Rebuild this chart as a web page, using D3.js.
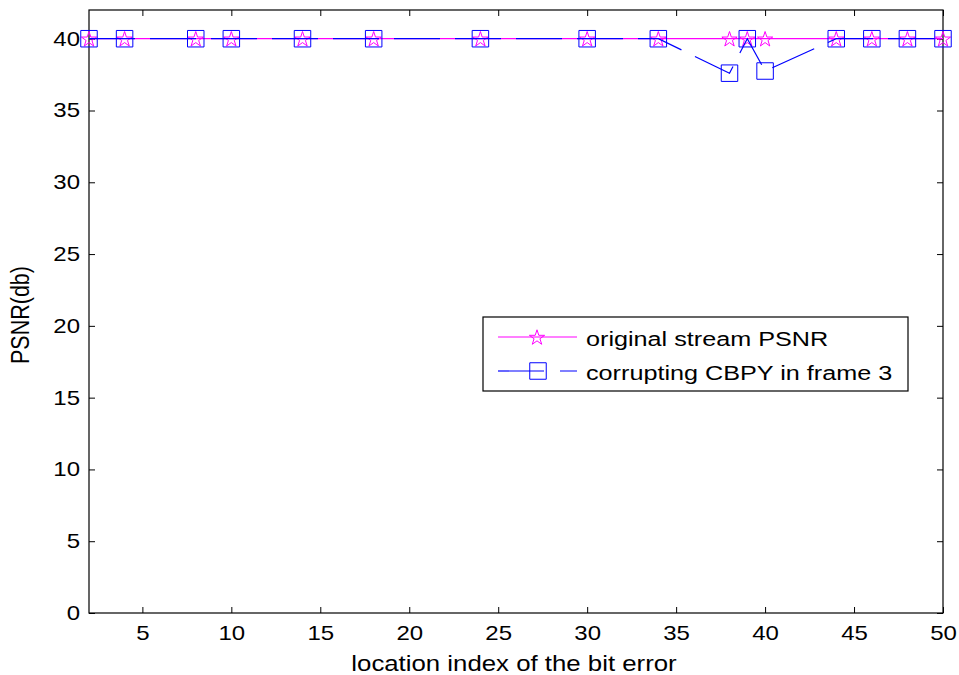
<!DOCTYPE html>
<html>
<head>
<meta charset="utf-8">
<script src="https://cdn.jsdelivr.net/npm/d3@7"></script>
<style>
  body { margin: 0; background: #fff; }
  text { font-family: "Liberation Sans", Arial, sans-serif; }
</style>
</head>
<body>
<svg id="chart" width="959" height="675"></svg>
<script>
// bit error locations tested
var locations = [2, 4, 8, 10, 14, 18, 24, 30, 34, 38, 39, 40, 44, 46, 48, 50];
var originalPsnr = [40, 40, 40, 40, 40, 40, 40, 40, 40, 40, 40, 40, 40, 40, 40, 40];
var corruptPsnr = [40, 40, 40, 40, 40, 40, 40, 40, 40, 37.6, 40, 37.75, 40, 40, 40, 40];
var xTicks = [5, 10, 15, 20, 25, 30, 35, 40, 45, 50];
var yTicks = [0, 5, 10, 15, 20, 25, 30, 35, 40];
var seriesNames = ["original stream PSNR", "corrupting CBPY in frame 3"];

var margin = {top: 10, right: 16, bottom: 62, left: 89};
var width = 959 - margin.left - margin.right;
var height = 675 - margin.top - margin.bottom;
var stretch = 1.2; // the original picture's text is a bit wide

var svg = d3.select('#chart')
  .append('g')
    .attr('transform', 'translate(' + margin.left + ',' + margin.top + ')');

var x = d3.scaleLinear().domain([2, 50]).range([0, width]);
var y = d3.scaleLinear().domain([0, 42]).range([height, 0]);

// axes, MATLAB style: ticks inside, box all round
function styleAxis(g) {
  g.select('.domain').remove();
  g.selectAll('.tick line').attr('stroke', '#000');
  g.selectAll('.tick text')
    .attr('fill', '#000')
    .style('font-size', '20px')
    .attr('transform', 'scale(' + stretch + ',1)');
}

svg.append('g')
  .attr('transform', 'translate(0,' + height + ')')
  .call(d3.axisBottom(x).tickValues(xTicks).tickSizeInner(-6).tickSizeOuter(0).tickPadding(13))
  .call(styleAxis);
svg.append('g')
  .call(d3.axisTop(x).tickValues(xTicks).tickSizeInner(-6).tickSizeOuter(0).tickFormat(''))
  .call(styleAxis);
svg.append('g')
  .call(d3.axisLeft(y).tickValues(yTicks).tickSizeInner(-6).tickSizeOuter(0).tickPadding(7.5))
  .call(styleAxis);
svg.append('g')
  .attr('transform', 'translate(' + width + ',0)')
  .call(d3.axisRight(y).tickValues(yTicks).tickSizeInner(-6).tickSizeOuter(0).tickFormat(''))
  .call(styleAxis);

svg.append('rect')
  .attr('width', width).attr('height', height)
  .attr('fill', 'none').attr('stroke', '#000').attr('stroke-width', 1.2);

svg.append('text')
  .attr('transform', 'translate(' + (width / 2 - 2) + ',' + (height + 58) + ') scale(' + stretch + ',1)')
  .attr('text-anchor', 'middle')
  .style('font-size', '21.5px')
  .text('location index of the bit error');

svg.append('text')
  .attr('transform', 'translate(' + (-60) + ',' + (height / 2 + 3.5) + ') scale(' + stretch + ',1) rotate(-90)')
  .attr('text-anchor', 'middle')
  .style('font-size', '21.5px')
  .text('PSNR(db)');

var star = d3.symbol().type(d3.symbolStar).size(72);
var square = d3.symbol().type(d3.symbolSquare).size(272);

var pts1 = locations.map(function(d, i) { return {x: d, y: originalPsnr[i]} });
var pts2 = locations.map(function(d, i) { return {x: d, y: corruptPsnr[i]} });

var line = d3.line()
  .x(function(d) { return x(d.x) })
  .y(function(d) { return y(d.y) });

svg.append('path')
  .attr('d', line(pts1))
  .attr('fill', 'none').attr('stroke', '#ff00ff').attr('stroke-width', 1.2);
svg.selectAll('.star')
  .data(pts1).enter()
  .append('path')
    .attr('transform', function(d) { return 'translate(' + x(d.x) + ',' + (y(d.y) + 0.8) + ')' })
    .attr('d', star)
    .attr('fill', 'none').attr('stroke', '#ff00ff').attr('stroke-width', 1);

svg.append('path')
  .attr('d', line(pts2))
  .attr('fill', 'none').attr('stroke', '#0000ff').attr('stroke-width', 1.2)
  .attr('stroke-dasharray', '46,15');
svg.selectAll('.sq')
  .data(pts2).enter()
  .append('path')
    .attr('transform', function(d) { return 'translate(' + x(d.x) + ',' + y(d.y) + ')' })
    .attr('d', square)
    .attr('fill', 'none').attr('stroke', '#0000ff').attr('stroke-width', 1);

// legend
var lg = svg.append('g').attr('transform', 'translate(' + (483 - margin.left) + ',' + (317 - margin.top) + ')');
lg.append('rect')
  .attr('width', 425).attr('height', 74)
  .attr('fill', '#fff').attr('stroke', '#000').attr('stroke-width', 1.2);

lg.append('line').attr('x1', 15).attr('x2', 94).attr('y1', 20).attr('y2', 20)
  .attr('stroke', '#ff00ff').attr('stroke-width', 1.2);
lg.append('path').attr('transform', 'translate(54,20.8)').attr('d', star)
  .attr('fill', 'none').attr('stroke', '#ff00ff');
lg.append('line').attr('x1', 15).attr('x2', 94).attr('y1', 54).attr('y2', 54)
  .attr('stroke', '#0000ff').attr('stroke-width', 1.2).attr('stroke-dasharray', '46,16');
lg.append('path').attr('transform', 'translate(55,54)').attr('d', square)
  .attr('fill', 'none').attr('stroke', '#0000ff');

lg.selectAll('.lt')
  .data(seriesNames).enter()
  .append('text')
    .attr('transform', function(d, i) { return 'translate(103,' + (29 + i * 34) + ') scale(' + stretch + ',1)' })
    .style('font-size', '21px')
    .text(function(d) { return d });
</script>
</body>
</html>
